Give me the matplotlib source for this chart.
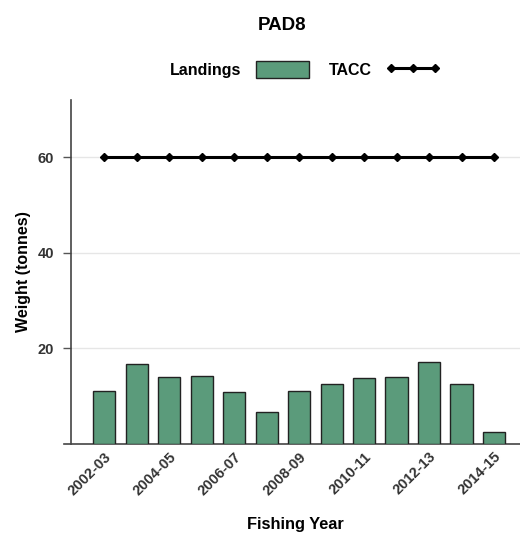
import matplotlib
matplotlib.use("Agg")
import matplotlib.pyplot as plt
from matplotlib.patches import Patch
from matplotlib.lines import Line2D

plt.rcParams['font.family'] = ['Liberation Sans', 'DejaVu Sans']

years = ["2002-03", "2003-04", "2004-05", "2005-06", "2006-07", "2007-08",
         "2008-09", "2009-10", "2010-11", "2011-12", "2012-13", "2013-14", "2014-15"]
landings = [11.1, 16.7, 14.1, 14.3, 10.9, 6.8, 11.1, 12.6, 13.9, 14.1, 17.1, 12.6, 2.45]
tacc = [60] * len(years)
yticks = [20, 40, 60]

bar_color = "#5b9b7b"
fig = plt.figure(figsize=(5.2, 5.37), dpi=100)
ax = fig.add_axes([0.1365, 0.1732, 0.8635, 0.6406])

x = list(range(len(years)))
ax.bar(x, landings, width=0.68, color=bar_color, edgecolor="#222222", linewidth=1.0, zorder=3)
ax.plot(x, tacc, color="black", linewidth=2.2, marker="D", markersize=4, zorder=4)

ax.set_xlim(-1.02, 12.8)
ax.set_ylim(0, 72)
ax.set_yticks(yticks)
ax.grid(axis="y", color="#e6e6e6", linewidth=1.0, zorder=0)
ax.set_xticks(x[::2])
ax.set_xticklabels(years[::2], rotation=45, ha="right", va="top", rotation_mode="anchor",
                   fontsize=10.5, fontweight="bold", color="#333333")
ax.tick_params(axis="x", length=0, pad=4)
ax.tick_params(axis="y", length=6, width=1, color="#555555", labelsize=10.5,
               labelcolor="#333333", pad=6)
for lbl in ax.get_yticklabels():
    lbl.set_fontweight("bold")

for side in ("top", "right"):
    ax.spines[side].set_visible(False)
for side in ("left", "bottom"):
    ax.spines[side].set_color("#444444")
    ax.spines[side].set_linewidth(1.2)
# bottom axis line runs slightly past the y axis
ax.spines["bottom"].set_bounds(-1.24, 12.8)
ax.spines["bottom"].set_clip_on(False)

ax.set_xlabel("Fishing Year", fontsize=11.8, fontweight="bold", labelpad=14)
ax.set_ylabel("Weight (tonnes)", fontsize=11.5, fontweight="bold", labelpad=5)

fig.text(0.542, 0.953, "PAD8", ha="center", va="center", fontsize=13.5, fontweight="bold")

handles = [Patch(facecolor=bar_color, edgecolor="#222222", linewidth=1.0),
           Line2D([0], [0], color="black", linewidth=2.2, marker="D", markersize=4)]
leg = fig.legend(handles, ["Landings", "TACC"], ncol=2, markerfirst=False, frameon=False,
                 loc="center", bbox_to_anchor=(0.586, 0.871), fontsize=11.5, numpoints=3,
                 handlelength=3.3, handleheight=1.3, columnspacing=1.3, handletextpad=0.9)
for t in leg.get_texts():
    t.set_fontweight("bold")

fig.savefig("out.png", dpi=100)
